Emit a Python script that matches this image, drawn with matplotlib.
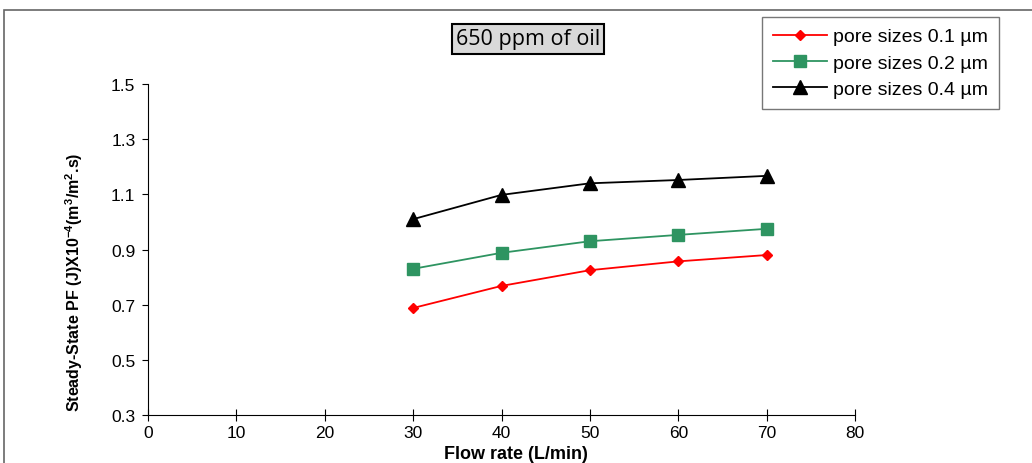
import matplotlib
matplotlib.use("Agg")
import matplotlib.pyplot as plt
from matplotlib.patches import Rectangle

flow_rate = [30, 40, 50, 60, 70]
pf_01 = [0.688, 0.768, 0.825, 0.857, 0.880]
pf_02 = [0.830, 0.888, 0.930, 0.953, 0.975]
pf_04 = [1.010, 1.098, 1.140, 1.152, 1.167]
series_labels = ["pore sizes 0.1 µm", "pore sizes 0.2 µm", "pore sizes 0.4 µm"]

plt.rcParams['font.family'] = ['Liberation Sans', 'DejaVu Sans']
plt.rcParams['mathtext.fontset'] = 'custom'
plt.rcParams['mathtext.rm'] = 'Liberation Sans'
plt.rcParams['mathtext.bf'] = 'Liberation Sans:bold'

fig = plt.figure(figsize=(10.32, 4.64), dpi=100)
ax = fig.add_axes([0.1434, 0.1034, 0.6851, 0.7134])

ax.plot(flow_rate, pf_01, color='red', marker='D', markersize=5.5, lw=1.3, label=series_labels[0])
ax.plot(flow_rate, pf_02, color='#2e9461', marker='s', markersize=8.5, lw=1.3, label=series_labels[1])
ax.plot(flow_rate, pf_04, color='black', marker='^', markersize=10, lw=1.3, label=series_labels[2])

ax.set_xlim(0, 80)
ax.set_ylim(0.3, 1.5)
ax.set_xticks(range(0, 81, 10))
ax.set_yticks([0.3, 0.5, 0.7, 0.9, 1.1, 1.3, 1.5])
ax.set_yticklabels(['0.3', '0.5', '0.7', '0.9', '1.1', '1.3', '1.5'])
ax.spines['top'].set_visible(False)
ax.spines['right'].set_visible(False)
ax.tick_params(axis='x', direction='inout', length=8, labelsize=12.5, pad=3)
ax.tick_params(axis='y', direction='out', length=4, labelsize=12.5, pad=5)

ax.set_xlabel('Flow rate (L/min)', fontsize=13, fontweight='bold')
ax.xaxis.set_label_coords(0.52, -0.09)
ax.set_ylabel(r'Steady-State PF (J)X10$^{\mathbf{-4}}$(m$^{\mathbf{3}}$/m$^{\mathbf{2}}$.s)',
              fontsize=11.5, fontweight='bold')
ax.yaxis.set_label_coords(-0.089, 0.405)

leg = ax.legend(loc='upper left', fontsize=14, frameon=True, fancybox=False, edgecolor='#555555',
                handlelength=2.8, labelspacing=0.45, borderpad=0.55, handletextpad=0.3,
                borderaxespad=0)
leg.get_frame().set_linewidth(1.0)
leg.set_bbox_to_anchor((762 / 1032, 1 - 18 / 464), transform=fig.transFigure)

fig.text(528 / 1032, 1 - 40 / 464, '650 ppm of oil', ha='center', va='center', fontsize=15.5,
         family=['Open Sans', 'DejaVu Sans'],
         bbox=dict(boxstyle='square,pad=0.2', facecolor='#d9d9d9', edgecolor='black', linewidth=1.5))

fig.patches.append(Rectangle((4 / 1032, -0.05), 1.1, 1 - 11 / 464 + 0.05, transform=fig.transFigure,
                             fill=False, edgecolor='#666666', linewidth=1.2))

fig.savefig('out.png', dpi=100)
